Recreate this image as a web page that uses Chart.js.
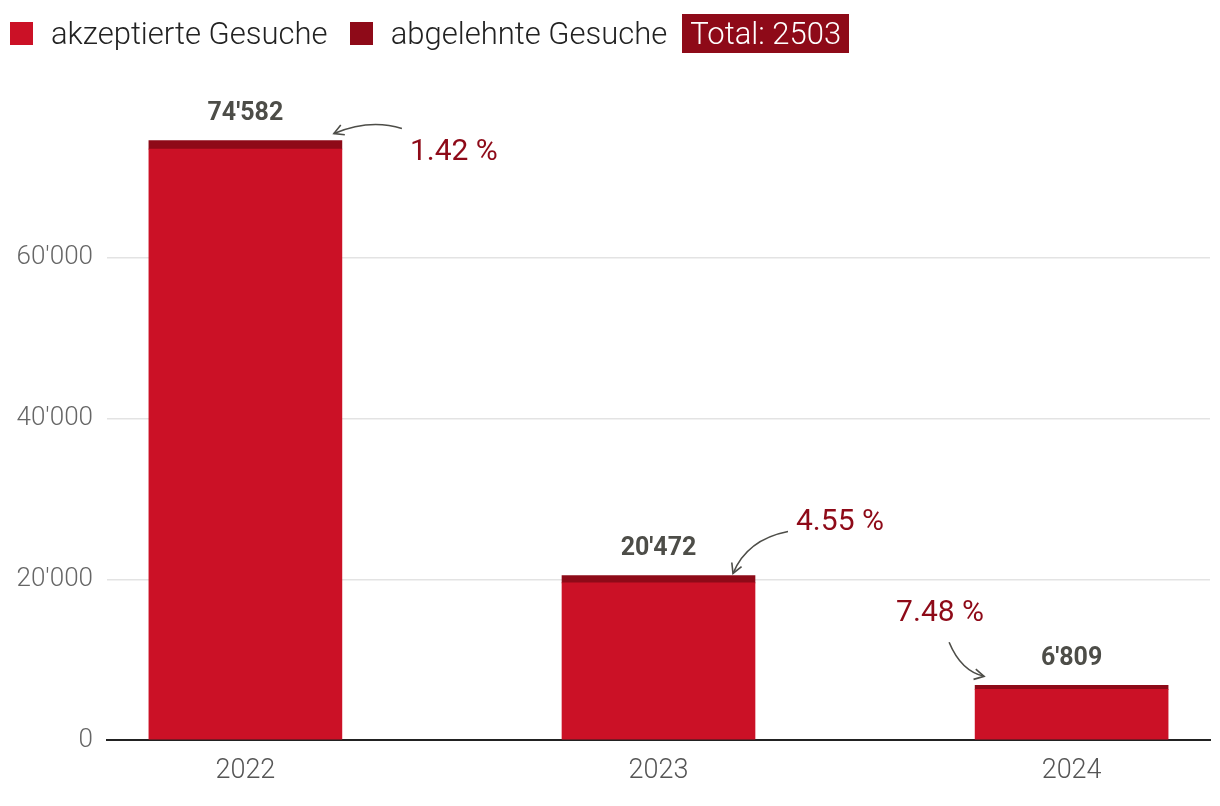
<!doctype html>
<html>
<head>
<meta charset="UTF-8">
<title>Gesuche</title>
<script src="https://cdn.jsdelivr.net/npm/chart.js@4.4.1/dist/chart.umd.min.js"></script>
<style>
  body { margin: 0; background: #fff; font-family: Roboto, "Open Sans", sans-serif; }
  #wrap { position: relative; width: 1220px; height: 806px; }
  #legend { position: absolute; top: 14px; left: 10px; display: flex; align-items: center; font-size: 31px; font-weight: 300; color: #222; }
  #legend .item { display: flex; align-items: center; margin-right: 22px; }
  #legend .box { width: 23px; height: 23px; margin-right: 18px; }
  #legend .total { background: #8e0a18; color: #fff; padding: 0 8px; height: 39px; line-height: 39px; margin-left: -7px; }
</style>
</head>
<body>
<div id="wrap">
  <div id="legend"></div>
  <canvas id="myChart" width="1220" height="806"></canvas>
</div>
<script>
// daten
var years = ['2022', '2023', '2024'];
var accepted = [73520, 19540, 6300];
var rejected = [1062, 932, 509];
var yTicks = [0, 20000, 40000, 60000];

var colAcc = '#cb1126';
var colRej = '#8e0a18';
var fam = 'Roboto, sans-serif';

function fmt(n){
  return String(n).replace(/\B(?=(\d{3})+(?!\d))/g, "'");
}

// legende
var totalRej = rejected.reduce(function(a, b){ return a + b; }, 0);
var lg = document.getElementById('legend');
lg.innerHTML =
  '<div class="item"><div class="box" style="background:' + colAcc + '"></div>akzeptierte Gesuche</div>' +
  '<div class="item"><div class="box" style="background:' + colRej + '"></div>abgelehnte Gesuche</div>' +
  '<div class="total">Total: ' + totalRej + '</div>';

// pfeile + prozent, relativ zur balkenkante
var notes = [
  { tx: 'right', dx: 68, dy: 12, ax: [60, -12], ac: [28, -22], ae: [-8, -7] },
  { tx: 'right', dx: 41, dy: -53, ax: [33, -44], ac: [-8, -36], ae: [-22, -2] },
  { tx: 'left', dx: -79, dy: -72, ax: [-26, -43], ac: [-14, -14], ae: [9, -9] }
];

var labelPlugin = {
  id: 'labels',
  afterDatasetsDraw: function(chart){
    var ctx = chart.ctx;
    var meta = chart.getDatasetMeta(1);
    meta.data.forEach(function(bar, i){
      var total = accepted[i] + rejected[i];
      var pct = (rejected[i] / total * 100).toFixed(2) + ' %';
      var left = bar.x - bar.width / 2, right = bar.x + bar.width / 2, top = bar.y;
      ctx.save();
      ctx.fillStyle = '#4d4d48';
      ctx.font = 'bold 25px ' + fam;
      ctx.textAlign = 'center';
      ctx.textBaseline = 'middle';
      ctx.fillText(fmt(total), bar.x, top - 27);

      var n = notes[i];
      var bx = n.tx == 'right' ? right : left;
      ctx.fillStyle = colRej;
      ctx.font = '30px ' + fam;
      ctx.textAlign = 'left';
      ctx.fillText(pct, bx + n.dx, top + n.dy);

      var sx = bx + n.ax[0], sy = top + n.ax[1];
      var cx = bx + n.ac[0], cy = top + n.ac[1];
      var ex = bx + n.ae[0], ey = top + n.ae[1];
      ctx.strokeStyle = '#4d4d48';
      ctx.lineWidth = 1.6;
      ctx.beginPath();
      ctx.moveTo(sx, sy);
      ctx.quadraticCurveTo(cx, cy, ex, ey);
      ctx.stroke();
      var ang = Math.atan2(ey - cy, ex - cx);
      ctx.beginPath();
      ctx.moveTo(ex - 11 * Math.cos(ang - 0.5), ey - 11 * Math.sin(ang - 0.5));
      ctx.lineTo(ex, ey);
      ctx.lineTo(ex - 11 * Math.cos(ang + 0.5), ey - 11 * Math.sin(ang + 0.5));
      ctx.stroke();
      ctx.restore();
    });
  }
};

var ctx = document.getElementById('myChart');
var myChart = new Chart(ctx, {
  type: 'bar',
  data: {
    datasets: [{
      label: 'akzeptierte Gesuche',
      data: accepted.map(function(v, i){ return { x: i, y: v }; }),
      backgroundColor: colAcc,
      barThickness: 193
    }, {
      label: 'abgelehnte Gesuche',
      data: rejected.map(function(v, i){ return { x: i, y: v }; }),
      backgroundColor: colRej,
      barThickness: 193
    }]
  },
  plugins: [labelPlugin],
  options: {
    responsive: false,
    animation: false,
    layout: { padding: { top: 97, right: 10, left: 0, bottom: 0 } },
    plugins: { legend: { display: false }, tooltip: { enabled: false } },
    scales: {
      x: {
        type: 'linear',
        stacked: true,
        offset: false,
        min: -0.335,
        max: 2.335,
        afterBuildTicks: function(s){ s.ticks = years.map(function(y, i){ return { value: i }; }); },
        afterFit: function(s){ s.height = 66; },
        grid: { display: false },
        border: { display: true, color: '#222', width: 2 },
        ticks: {
          callback: function(v){ return years[v]; },
          color: '#555',
          font: { family: fam, size: 27, weight: 300 },
          padding: 7
        }
      },
      y: {
        stacked: true,
        min: 0,
        max: 80000,
        afterBuildTicks: function(s){ s.ticks = yTicks.map(function(v){ return { value: v }; }); },
        afterFit: function(s){ s.width = 107; },
        border: { display: false },
        grid: { color: '#e3e3e3', lineWidth: 1.5, drawTicks: false },
        ticks: {
          callback: function(v){ return fmt(v); },
          color: '#666',
          font: { family: fam, size: 26, weight: 300 },
          padding: 14
        }
      }
    }
  }
});
</script>
</body>
</html>
